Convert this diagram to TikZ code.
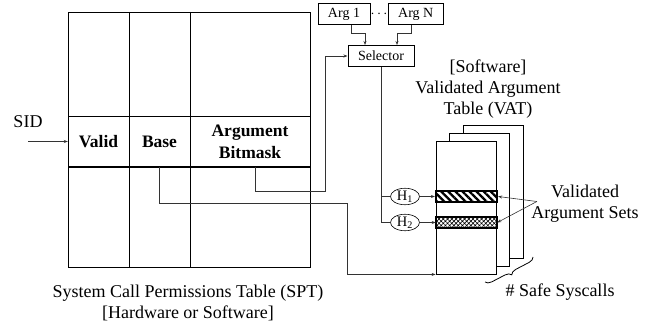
\documentclass[tikz,border=0pt]{standalone}
\usepackage{fontspec}
\setmainfont{Liberation Serif}
\usetikzlibrary{arrows.meta,positioning,shapes.geometric,patterns.meta,decorations.pathreplacing}

\tikzset{
  big/.style={font=\fontsize{18}{21}\selectfont},
  cell/.style={font=\fontsize{17.5}{22}\selectfont\bfseries, align=center, minimum height=51pt, inner sep=0pt},
  argbox/.style={draw, line width=1pt, font=\fontsize{14}{16}\selectfont, minimum height=21pt, inner sep=2pt},
  conn/.style={line width=0.6pt, draw=black!80},
  hash/.style={draw, ellipse, line width=0.6pt, minimum width=29pt, minimum height=16pt, inner sep=0pt, font=\fontsize{14.5}{16}\selectfont},
  vatpage/.style={draw, line width=0.9pt, fill=white, minimum width=60pt, minimum height=133pt, inner sep=0pt},
  argset/.style={draw, line width=1.2pt, minimum width=61pt, minimum height=11pt, inner sep=0pt}
}

\begin{document}
\begin{tikzpicture}[x=1pt,y=-1pt,>={Stealth[length=4pt,width=3pt]}]
  \useasboundingbox (0,0) rectangle (652,323);
  % Permissions table
  \draw[line width=0.9pt] (68,12) rectangle (310,267);
  \draw[line width=0.9pt] (129,12) -- (129,267) (190,12) -- (190,267) (68,116) -- (310,116);
  \draw[line width=2pt] (68,167) -- (310,167);
  \node[cell, minimum width=61pt] (valid) at (98.5,141.5) {Valid};
  \node[cell, minimum width=61pt] (base) at (159.5,141.5) {Base};
  \node[cell, minimum width=120pt] (bitmask) at (250,141.5) {Argument\\Bitmask};
  \node[big, align=center] (spt) at (188,303) {System Call Permissions Table (SPT)\\{}[Hardware or Software]};
  % SID
  \node[big] (sid) at (28,122) {SID};
  \draw[conn,->] (sid.south |- valid.west) -- (valid.west);
  % Arguments and selector
  \node[argbox, minimum width=52pt] (arg1) at (344,14.5) {Arg 1};
  \node[inner sep=0pt, font=\fontsize{15}{16}\selectfont, right=0pt of arg1] (dots) {$\cdots$};
  \node[argbox, minimum width=55pt, right=0pt of dots] (argn) {Arg N};
  \node[argbox, minimum width=66pt] (selector) at (381,56) {Selector};
  \draw[conn,->] ([xshift=7pt]arg1.south) -- ++(0,8) -| ([xshift=-16pt]selector.north);
  \draw[conn,->] ([xshift=-4pt]argn.south) -- ++(0,8) -| ([xshift=16pt]selector.north);
  % Hash units
  \node[hash] (h1) at (405,196.5) {H\textsubscript{1}};
  \node[hash] (h2) at (405,222.5) {H\textsubscript{2}};
  \draw[conn] (selector.south) |- (h1.west);
  \draw[conn] (selector.south) |- (h2.west);
  % Validated argument table
  \coordinate (vatc) at (466,207.5);
  \node[vatpage] (vat3) at ([shift={(27,-16)}]vatc) {};
  \node[vatpage] (vat2) at ([shift={(13.5,-8)}]vatc) {};
  \node[vatpage] (vat) at (vatc) {};
  \node[argset, pattern={Lines[angle=-45,distance=5pt,line width=2.3pt]}] (set1) at (466.5,196.5) {};
  \node[argset, pattern={Hatch[angle=45,distance=3pt,line width=0.6pt]}] (set2) at (466.5,222.5) {};
  \draw[conn,->] (h1.east) -- (set1.west);
  \draw[conn,->] (h2.east) -- (set2.west);
  % Table lookups
  \draw[conn,->] (base.south) -- ++(0,36) -| ([xshift=-88pt]vat.south west) -- (vat.south west);
  \draw[conn,->] ([xshift=5pt]bitmask.south) -- ++(0,24) -| ([xshift=-22pt]selector.west) -- (selector.west);
  % Labels
  \node[big, align=center] (vattitle) at (488,89) {[Software]\\Validated Argument\\Table (VAT)};
  \node[big, align=center] (vas) at (585,203.5) {Validated\\Argument Sets};
  \coordinate (vastip) at ([xshift=9pt,yshift=2pt]vas.west);
  \draw[conn,->] (vastip) -- (set1.east);
  \draw[conn,->] (vastip) -- (set2.east);
  % Safe syscalls
  \draw[decorate, decoration={brace, amplitude=6pt}, line width=0.8pt] (533,257) -- (485,282);
  \node[big] (safe) at (560,292) {\# Safe Syscalls};
\end{tikzpicture}
\end{document}
